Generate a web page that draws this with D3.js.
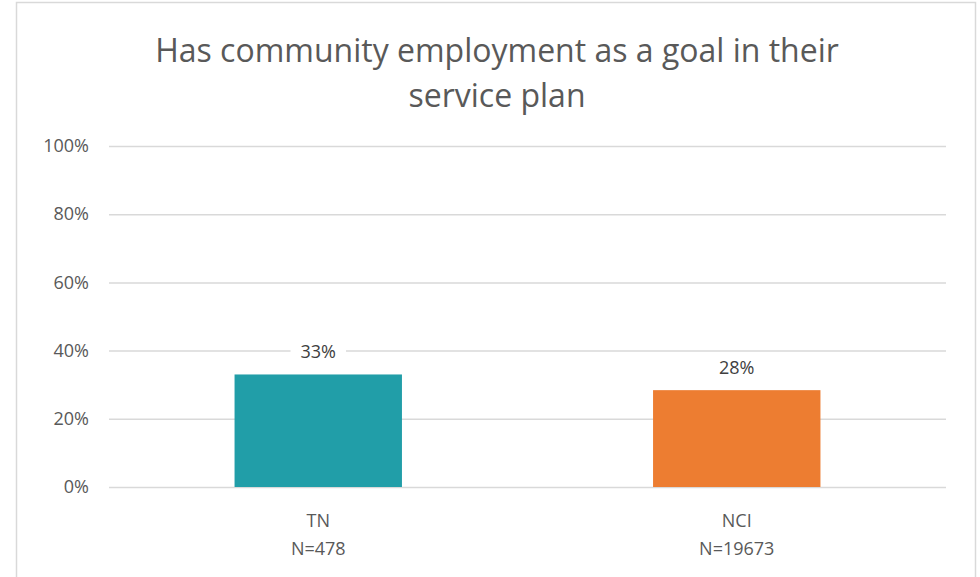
<!DOCTYPE html>
<html><head><meta charset="utf-8">
<script src="https://cdn.jsdelivr.net/npm/d3@7"></script>
<style>body{margin:0;background:#fff;} text{font-family:"Open Sans","Liberation Sans",sans-serif;}</style>
</head><body>
<svg id="c" width="980" height="577"></svg>
<script>
const categories = ["TN", "NCI"];
const sampleSizes = ["N=478", "N=19673"];
const values = [0.33, 0.284];
const labels = ["33%", "28%"];
const colors = ["#219EA8", "#ED7D31"];
const yTicks = [0, 0.2, 0.4, 0.6, 0.8, 1.0];
const titleLines = ["Has community employment as a goal in their", "service plan"];

const svg = d3.select("#c");
svg.append("rect").attr("x",16.5).attr("y",2.5).attr("width",959).attr("height",590)
  .attr("fill","#fff").attr("stroke","#d9d9d9").attr("stroke-width",1.5);

const m = {left:109, right:946, top:146, bottom:487};
const x = d3.scaleBand().domain(categories).range([m.left, m.right]).paddingInner(0.6).paddingOuter(0.3);
const y = d3.scaleLinear().domain([0,1]).range([m.bottom, m.top]);

const yAxis = d3.axisLeft(y).tickValues(yTicks).tickFormat(d3.format(".0%")).tickSize(-(m.right-m.left)).tickPadding(20);
const gy = svg.append("g").attr("transform",`translate(${m.left},0)`).call(yAxis);
gy.select(".domain").remove();
gy.selectAll(".tick line").attr("stroke","#d9d9d9").attr("stroke-width",1.5);
gy.selectAll(".tick text").attr("fill","#595959").attr("font-size",18);

svg.append("g").selectAll("rect").data(categories).join("rect")
  .attr("x", d=>x(d)).attr("width", x.bandwidth())
  .attr("y", (d,i)=>y(values[i])).attr("height",(d,i)=>y(0)-y(values[i]))
  .attr("fill",(d,i)=>colors[i]);

// data labels with white background
const lg = svg.append("g").selectAll("g").data(categories).join("g");
lg.each(function(d,i){
  const g = d3.select(this);
  const cx = x(d)+x.bandwidth()/2, cy = y(values[i]) - 23;
  const t = g.append("text").attr("x",cx).attr("y",cy).attr("text-anchor","middle")
    .attr("dominant-baseline","central").attr("font-size",18).attr("fill","#404040").text(labels[i]);
  const bb = t.node().getBBox();
  g.insert("rect","text").attr("x",bb.x-10).attr("y",bb.y-2).attr("width",bb.width+20).attr("height",bb.height+4).attr("fill","#fff");
});

// x labels
const xl = svg.append("g").selectAll("text").data(categories).join("text")
  .attr("x", d=>x(d)+x.bandwidth()/2).attr("text-anchor","middle").attr("fill","#595959").attr("font-size",18);
xl.append("tspan").attr("x", d=>x(d)+x.bandwidth()/2).attr("y",527).text(d=>d);
xl.append("tspan").attr("x", d=>x(d)+x.bandwidth()/2).attr("y",555).text((d,i)=>sampleSizes[i]);

svg.append("g").selectAll("text").data(titleLines).join("text")
  .attr("x",497).attr("y",(d,i)=>62+i*45).attr("text-anchor","middle")
  .attr("fill","#595959").attr("font-size",32).text(d=>d);
</script>
</body></html>
